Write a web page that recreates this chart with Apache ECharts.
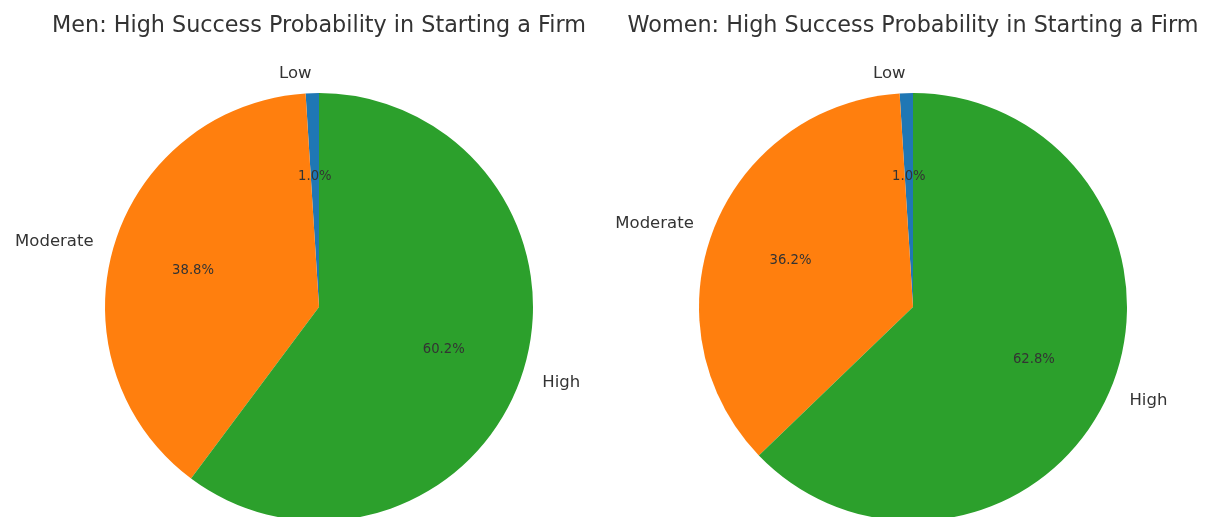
<!DOCTYPE html>
<html>
<head>
<meta charset="utf-8">
<script src="https://cdn.jsdelivr.net/npm/echarts@6/dist/echarts.min.js"></script>
<style>
  html, body { margin: 0; padding: 0; background: #fff; }
  #chart { width: 1212px; height: 517px; }
</style>
</head>
<body>
<div id="chart"></div>
<script>
// data
const categories = ['Low', 'Moderate', 'High'];
const menValues = [1.0, 38.8, 60.2];
const womenValues = [1.0, 36.2, 62.8];
const titles = [
  'Men: High Success Probability in Starting a Firm',
  'Women: High Success Probability in Starting a Firm'
];
const colors = ['#1f77b4', '#ff7f0e', '#2ca02c'];

const FONT = 'DejaVu Sans';
const R = 214;            // pie radius in px
const centers = [[319, 307], [913, 307]];
const nameSize = 16.5;
const pctSize = 13.2;

// matplotlib aligns outer labels left/right depending on side, echarts centres them
const ctx = document.createElement('canvas').getContext('2d');
function textWidth(s, size) {
  ctx.font = size + 'px "' + FONT + '"';
  return ctx.measureText(s).width;
}

function buildSeries(values, center) {
  const total = values.reduce((a, b) => a + b, 0);
  let start = 90;
  const nameData = values.map((v, i) => {
    const mid = start + v / total * 180;
    start += v / total * 360;
    const dx = Math.cos(mid * Math.PI / 180);
    const w = textWidth(categories[i], nameSize);
    return {
      name: categories[i],
      value: v,
      label: { offset: [dx < 0 ? -w / 2 : w / 2, 2] }
    };
  });
  const plain = values.map((v, i) => ({ name: categories[i], value: v }));
  const common = {
    type: 'pie',
    center: center,
    startAngle: 90,
    clockwise: false,
    silent: true,
    animation: false,
    emphasis: { disabled: true },
    labelLine: { show: false }
  };
  return [
    Object.assign({}, common, {
      radius: [0, R],
      data: plain,
      itemStyle: { color: (p) => colors[p.dataIndex] },
      label: { show: false }
    }),
    // percentage labels at 0.6 R
    Object.assign({}, common, {
      radius: [0, R * 1.2],
      data: plain,
      itemStyle: { color: 'rgba(0,0,0,0)' },
      label: {
        show: true, position: 'inside', color: '#333',
        fontFamily: FONT, fontSize: pctSize,
        offset: [0, 1],
        formatter: (p) => p.value.toFixed(1) + '%'
      }
    }),
    // category labels at ~1.1 R
    Object.assign({}, common, {
      radius: [0, R * 2.17],
      data: nameData,
      itemStyle: { color: 'rgba(0,0,0,0)' },
      label: {
        show: true, position: 'inside', color: '#333',
        fontFamily: FONT, fontSize: nameSize,
        formatter: '{b}'
      }
    })
  ];
}

const chart = echarts.init(document.getElementById('chart'));
chart.setOption({
  backgroundColor: '#fff',
  title: titles.map((t, i) => ({
    text: t,
    left: centers[i][0] - 5,
    top: 10,
    textAlign: 'center',
    textStyle: { fontFamily: FONT, fontSize: 22.3, fontWeight: 'normal', color: '#333' }
  })),
  series: buildSeries(menValues, centers[0]).concat(buildSeries(womenValues, centers[1]))
});
</script>
</body>
</html>
